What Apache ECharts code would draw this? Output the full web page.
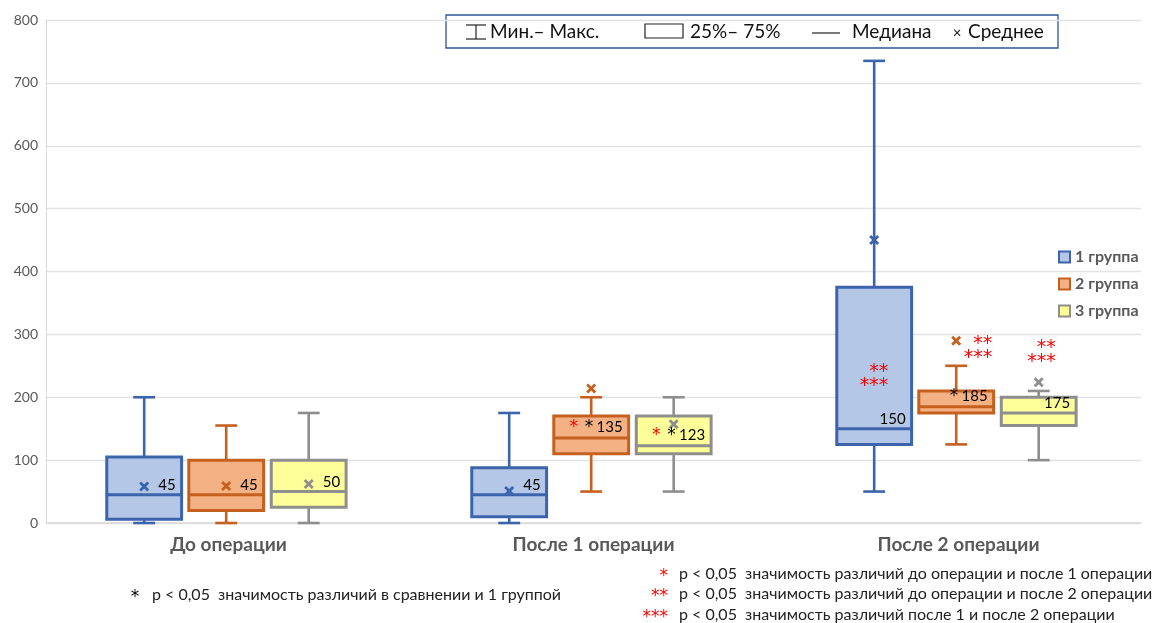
<!DOCTYPE html>
<html>
<head>
<meta charset="utf-8">
<script src="https://cdn.jsdelivr.net/npm/echarts@6/dist/echarts.min.js"></script>
<style>
  html, body { margin: 0; padding: 0; background: #fff; }
  #chart { width: 1154px; height: 623px; }
</style>
</head>
<body>
<div id="chart"></div>
<script>
// ---- data ----
const categories = ['До операции', 'После 1 операции', 'После 2 операции'];
const groupNames = ['1 группа', '2 группа', '3 группа'];
const yTicks = [0, 100, 200, 300, 400, 500, 600, 700, 800];

// one row per category: [min, q1, median, q3, max]
const group1Box = [[0, 6, 45, 105, 200], [0, 10, 45, 88, 175], [50, 125, 150, 375, 735]];
const group2Box = [[0, 20, 45, 100, 155], [50, 110, 135, 170, 200], [125, 175, 185, 210, 250]];
const group3Box = [[0, 25, 50, 100, 175], [50, 110, 123, 170, 200], [100, 155, 175, 200, 210]];
const group1Mean = [58, 51, 450];
const group2Mean = [59, 214, 290];
const group3Mean = [62, 157, 224];

// black asterisk: difference vs group 1
const group1VsG1 = ['', '', ''];
const group2VsG1 = ['', '*', '*'];
const group3VsG1 = ['', '*', ''];
// red asterisks: difference between stages
const group1Stage = ['', '', '**\n***'];
const group2Stage = ['', '*', '**\n***'];
const group3Stage = ['', '*', '**\n***'];

// ---- styling / layout ----
const FONT = 'Lato, "Open Sans", sans-serif';
const STAR_FONT = 'DejaVu Sans';
const STROKE = ['#3C64AC', '#C5601F', '#8E8E8E'];
const FILL = ['#B4C7E7', '#F4B183', '#FFFF99'];
const BOX_OFFSET = [-0.231, -0.0063, 0.2197];   // fraction of band width
const BOX_WIDTH = 0.205;
const CAP_WIDTH = 0.06;
// stacked red asterisk block: [dx from box centre in px, anchor value]
const STAGE_BLOCK = [[14, 243], [36, 288], [17, 281]];

const boxes = [group1Box, group2Box, group3Box];
const means = [group1Mean, group2Mean, group3Mean];
const vsG1 = [group1VsG1, group2VsG1, group3VsG1];
const stage = [group1Stage, group2Stage, group3Stage];

function renderBox(params, api) {
  const si = params.seriesIndex;
  const di = params.dataIndex;
  const cat = api.value(0);
  const mn = api.value(1), q1 = api.value(2), md = api.value(3),
        q3 = api.value(4), mx = api.value(5), mean = api.value(6);
  const band = api.size([1, 0])[0];
  const cx = api.coord([cat, 0])[0] + band * BOX_OFFSET[si];
  const half = band * BOX_WIDTH / 2;
  const capHalf = band * CAP_WIDTH / 2;
  const y = v => api.coord([cat, v])[1];
  const stroke = STROKE[si];
  const lineStyle = { stroke: stroke, lineWidth: 2.6 };
  const children = [
    { type: 'line', shape: { x1: cx, y1: y(mx), x2: cx, y2: y(q3) }, style: lineStyle },
    { type: 'line', shape: { x1: cx, y1: y(q1), x2: cx, y2: y(mn) }, style: lineStyle },
    { type: 'line', shape: { x1: cx - capHalf, y1: y(mx), x2: cx + capHalf, y2: y(mx) }, style: lineStyle },
    { type: 'line', shape: { x1: cx - capHalf, y1: y(mn), x2: cx + capHalf, y2: y(mn) }, style: lineStyle },
    { type: 'rect', shape: { x: cx - half, y: y(q3), width: half * 2, height: y(q1) - y(q3) },
      style: { fill: FILL[si], stroke: stroke, lineWidth: 3 } },
    { type: 'line', shape: { x1: cx - half, y1: y(md), x2: cx + half, y2: y(md) },
      style: { stroke: stroke, lineWidth: 3 } },
    { type: 'line', shape: { x1: cx - 4, y1: y(mean) - 4, x2: cx + 4, y2: y(mean) + 4 },
      style: { stroke: stroke, lineWidth: 2.8 } },
    { type: 'line', shape: { x1: cx - 4, y1: y(mean) + 4, x2: cx + 4, y2: y(mean) - 4 },
      style: { stroke: stroke, lineWidth: 2.8 } }
  ];
  const black = vsG1[si][di];
  const red = stage[si][di];
  let text = (black ? '{k|' + black + '} ' : '') + '{v|' + md + '}';
  if (red === '*') text = '{r|' + red + '}  ' + text;
  children.push({
    type: 'text', z2: 10,
    style: {
      text: text, x: cx + half - 6, y: y(md) - 2, align: 'right', verticalAlign: 'bottom',
      rich: {
        v: { fontSize: 15, fontFamily: FONT, fill: '#000' },
        k: { fontSize: 17, fontFamily: STAR_FONT, fill: '#000' },
        r: { fontSize: 17, fontFamily: STAR_FONT, fill: '#FF0000' }
      }
    }
  });
  if (red && red !== '*') {
    const at = STAGE_BLOCK[si];
    children.push({
      type: 'text', z2: 10,
      style: {
        text: red, x: cx + at[0], y: y(at[1]) - 5, align: 'right', verticalAlign: 'top',
        fontSize: 19, lineHeight: 14, fontFamily: STAR_FONT, fill: '#FF0000'
      }
    });
  }
  return { type: 'group', children: children };
}

const series = groupNames.map((name, si) => ({
  name: name,
  type: 'custom',
  renderItem: renderBox,
  itemStyle: { color: FILL[si], borderColor: STROKE[si], borderWidth: 2 },
  encode: { x: 0, y: [1, 2, 3, 4, 5, 6] },
  data: boxes[si].map((row, ci) => [ci].concat(row, [means[si][ci]]))
}));

// top key: min-max / quartiles / median / mean
const keyStroke = '#222';
const keyText = { fontSize: 19, fontFamily: FONT, fill: '#111', verticalAlign: 'middle' };
const topKey = {
  type: 'group', x: 446, y: 15, z: 100,
  children: [
    { type: 'rect', shape: { x: 0, y: 0, width: 612, height: 33 },
      style: { fill: '#fff', stroke: '#2F5597', lineWidth: 1.3 } },
    { type: 'line', shape: { x1: 20, y1: 10, x2: 40, y2: 10 }, style: { stroke: keyStroke, lineWidth: 1.2 } },
    { type: 'line', shape: { x1: 20, y1: 24, x2: 40, y2: 24 }, style: { stroke: keyStroke, lineWidth: 1.2 } },
    { type: 'line', shape: { x1: 30, y1: 10, x2: 30, y2: 24 }, style: { stroke: keyStroke, lineWidth: 1.2 } },
    { type: 'text', style: Object.assign({ text: 'Мин.– Макс.', x: 44, y: 17 }, keyText) },
    { type: 'rect', shape: { x: 199, y: 9, width: 38, height: 14 }, style: { fill: '#fff', stroke: keyStroke, lineWidth: 1.2 } },
    { type: 'text', style: Object.assign({ text: '25%– 75%', x: 244, y: 17 }, keyText) },
    { type: 'line', shape: { x1: 366, y1: 18, x2: 394, y2: 18 }, style: { stroke: keyStroke, lineWidth: 1.2 } },
    { type: 'text', style: Object.assign({ text: 'Медиана', x: 406, y: 17 }, keyText) },
    { type: 'text', style: { text: '×', x: 511, y: 18, align: 'center', verticalAlign: 'middle', fontSize: 15, fontFamily: FONT, fill: '#111' } },
    { type: 'text', style: Object.assign({ text: 'Среднее', x: 522, y: 17 }, keyText) }
  ]
};

const noteFont = { fontSize: 16, fontFamily: FONT, fill: '#222', verticalAlign: 'middle' };
const redStar = { fontSize: 17, fontFamily: STAR_FONT, fill: '#FF0000', align: 'right', verticalAlign: 'middle' };
const notes = {
  type: 'group', x: 0, y: 0, z: 100,
  children: [
    { type: 'text', style: { text: '*', x: 135, y: 598, align: 'center', verticalAlign: 'middle', fontSize: 17, fontFamily: STAR_FONT, fill: '#000' } },
    { type: 'text', style: Object.assign({ text: 'p < 0,05  значимость различий в сравнении и 1 группой', x: 152, y: 595 }, noteFont) },
    { type: 'text', style: Object.assign({ text: '*', x: 668, y: 577 }, redStar) },
    { type: 'text', style: Object.assign({ text: '**', x: 668, y: 597 }, redStar) },
    { type: 'text', style: Object.assign({ text: '***', x: 668, y: 618 }, redStar) },
    { type: 'text', style: Object.assign({ text: 'p < 0,05  значимость различий до операции и после 1 операции', x: 679, y: 574 }, noteFont) },
    { type: 'text', style: Object.assign({ text: 'p < 0,05  значимость различий до операции и после 2 операции', x: 679, y: 594 }, noteFont) },
    { type: 'text', style: Object.assign({ text: 'p < 0,05  значимость различий после 1 и после 2 операции', x: 679, y: 615 }, noteFont) }
  ]
};

const chart = echarts.init(document.getElementById('chart'), null, { renderer: 'canvas' });
chart.setOption({
  animation: false,
  backgroundColor: '#fff',
  textStyle: { fontFamily: FONT },
  grid: { left: 46, right: 13, top: 20, bottom: 100 },
  legend: {
    orient: 'vertical', left: 1053, top: 244, itemGap: 11,
    itemWidth: 11, itemHeight: 11, icon: 'rect',
    textStyle: { fontSize: 16, fontWeight: 'bold', color: '#595959', fontFamily: FONT },
    data: groupNames.map((n, i) => ({
      name: n, itemStyle: { color: FILL[i], borderColor: STROKE[i], borderWidth: 2 }
    }))
  },
  xAxis: {
    type: 'category', data: categories,
    axisTick: { show: false },
    axisLine: { lineStyle: { color: '#D9D9D9', width: 1.5 } },
    axisLabel: { fontSize: 19, fontWeight: 'bold', color: '#595959', margin: 12 }
  },
  yAxis: {
    type: 'value', min: yTicks[0], max: yTicks[yTicks.length - 1], interval: 100,
    axisLine: { show: true, lineStyle: { color: '#D9D9D9' } },
    axisTick: { show: false },
    splitLine: { lineStyle: { color: '#E3E3E3', width: 1.3 } },
    axisLabel: { fontSize: 14, color: '#595959', margin: 8 }
  },
  graphic: [topKey, notes],
  series: series
});
</script>
</body>
</html>
